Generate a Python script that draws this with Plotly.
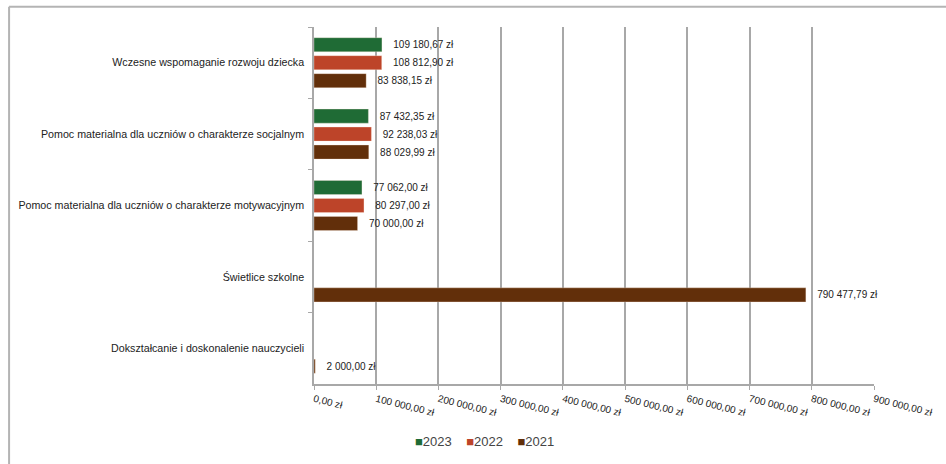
import plotly.graph_objects as go

# Budget lines (top to bottom) and yearly amounts in zł
categories = [
    "Wczesne wspomaganie rozwoju dziecka",
    "Pomoc materialna dla uczniów o charakterze socjalnym",
    "Pomoc materialna dla uczniów o charakterze motywacyjnym",
    "Świetlice szkolne",
    "Dokształcanie i doskonalenie nauczycieli",
]
years = ["2023", "2022", "2021"]
values_2023 = [109180.67, 87432.35, 77062.00, None, None]
values_2022 = [108812.90, 92238.03, 80297.00, None, None]
values_2021 = [83838.15, 88029.99, 70000.00, 790477.79, 2000.00]
tick_values = [0, 100000, 200000, 300000, 400000, 500000, 600000, 700000, 800000, 900000]

colors = ["#1f6b35", "#bd4429", "#622f0a"]


def pln(v):
    """Format an amount in Polish style: '109 180,67 zł'."""
    s = f"{v:,.2f}".replace(",", " ").replace(".", ",")
    return s + " zł"


fig = go.Figure()
for year, vals, col in zip(years, [values_2023, values_2022, values_2021], colors):
    fig.add_trace(go.Bar(
        name=year,
        y=categories,
        x=vals,
        orientation="h",
        marker=dict(color=col, line=dict(color="rgba(255,235,220,0.6)", width=0.5)),
        text=["\u00a0\u00a0\u00a0" + pln(v) if v is not None else "" for v in vals],
        textposition="outside",
        textfont=dict(family="Liberation Sans, Arial", size=10, color="#222222"),
        cliponaxis=False,
        showlegend=False,
    ))

# compact legend: small colour squares directly followed by the year
legend_text = "\u00a0\u00a0\u00a0\u00a0".join(
    f"<span style='color:{c}'>■</span>{y}" for y, c in zip(years, colors)
)

grid_col = "#a8a8a8"
fig.update_layout(
    width=946,
    height=464,
    margin=dict(l=314, r=70, t=27, b=80),
    paper_bgcolor="white",
    plot_bgcolor="white",
    barmode="group",
    bargap=0.245,
    bargroupgap=0.22,
    font=dict(family="Liberation Sans, Arial", size=10, color="#222222"),
    xaxis=dict(
        range=[0, 900000],
        tickvals=tick_values,
        ticktext=[pln(v) for v in tick_values],
        tickangle=14,
        tickfont=dict(size=10, color="#222222"),
        showgrid=True,
        gridcolor=grid_col,
        gridwidth=1.5,
        zeroline=False,
        showline=True,
        linecolor=grid_col,
        linewidth=1.5,
        ticks="outside",
        ticklen=4,
        tickcolor=grid_col,
    ),
    yaxis=dict(
        autorange="reversed",
        showline=True,
        linecolor=grid_col,
        linewidth=1.5,
        ticks="outside",
        tickson="boundaries",
        ticklen=4,
        tickcolor=grid_col,
        tickfont=dict(size=10.7, color="#222222"),
        ticklabelstandoff=6,
        showgrid=False,
    ),
    annotations=[
        dict(text=legend_text, xref="paper", yref="paper",
             x=0.305, xanchor="center", y=-0.16, yanchor="middle",
             showarrow=False, font=dict(size=13, color="#444444")),
    ],
    shapes=[
        # frame around the chart (top and left edges)
        dict(type="line", xref="paper", yref="paper",
             x0=-0.5445, x1=1.5, y0=1.0565, y1=1.0565,
             line=dict(color="#b4b4b4", width=2)),
        dict(type="line", xref="paper", yref="paper",
             x0=-0.5445, x1=-0.5445, y0=1.0565, y1=-0.5,
             line=dict(color="#b4b4b4", width=2)),
    ],
)

fig.write_html("out.html")
